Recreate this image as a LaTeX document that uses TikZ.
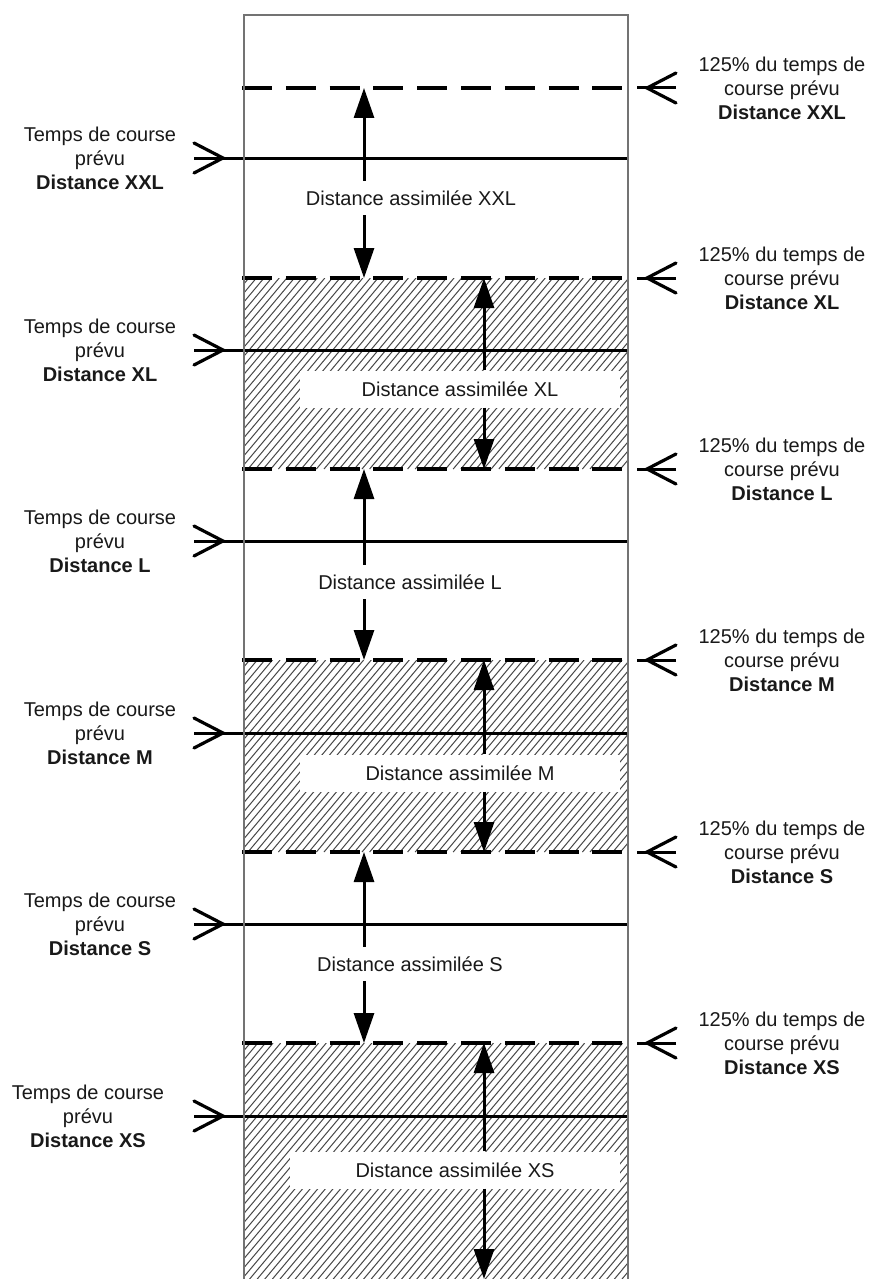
\documentclass[tikz,border=0pt]{standalone}
\usepackage{fontspec}
\setmainfont{Liberation Sans}
\usetikzlibrary{arrows.meta}
\newcommand\hatchband[2]{%
  \begin{scope}
    \clip (244,#1) rectangle (628,#2);
    \foreach \hx in {20,27.6,...,640} {
      \draw[hatchline] (\hx,#2) -- ({\hx+0.84*(#2-#1)},#1);
    }
  \end{scope}}
\begin{document}
\begin{tikzpicture}[x=1pt,y=-1pt,
  every node/.style={font=\fontsize{20pt}{24pt}\selectfont, text=black!90},
  lbl/.style={align=center, inner sep=0pt},
  mid/.style={inner sep=0pt, minimum height=34pt},
  midbox/.style={fill=white, inner sep=0pt, minimum height=37pt, minimum width=320pt},
  solidline/.style={line width=3pt},
  dashline/.style={line width=3.5pt, dash pattern=on 30pt off 13.8pt},
  frame/.style={draw=black!55, line width=1.5pt},
  hatchline/.style={draw=black!72, line width=1pt},
  dimarrow/.style={line width=3pt, -{Triangle[length=30pt,width=20pt]}},
  barb/.style={line width=3.2pt, line cap=round, line join=miter},
]
\useasboundingbox (0,0) rectangle (871,1279);
\fill[white] (0,0) rectangle (871,1279);

% hatched bands
\hatchband{278}{469}
\hatchband{660}{852}
\hatchband{1043}{1290}

% white label boxes in hatched bands
\node[midbox] (dXL) at (460,389) {Distance assimilée XL};
\node[midbox] (dM) at (460,773) {Distance assimilée M};
\node[midbox, minimum width=330pt] (dXS) at (455,1170) {Distance assimilée XS};

% labels in white bands
\node[mid] (dXXL) at (411,198) {Distance assimilée XXL};
\node[mid] (dL) at (410,582) {Distance assimilée L};
\node[mid] (dS) at (410,964) {Distance assimilée S};

% repeating horizontal structure
\foreach \n/\d/\s/\lx in {XXL/88/158/100, XL/278/350/100, L/469/541/100, M/660/733/100, S/852/924/100, XS/1043/1116/88} {
  \coordinate (dl\n) at (242,\d);
  \coordinate (dr\n) at (628,\d);
  \draw[dashline] (dl\n) -- (dr\n);
  \coordinate (ls\n) at (194,\s);
  \coordinate (lt\n) at (223,\s);
  \coordinate (le\n) at (628,\s);
  \draw[solidline] (ls\n) -- (le\n);
  \draw[barb] ([shift={(-29,-15)}]lt\n) -- (lt\n) -- ([shift={(-29,15)}]lt\n);
  \node[lbl] (left\n) at (\lx,\s) {Temps de course\\prévu\\\textbf{Distance \n}};
  \coordinate (rs\n) at (676,\d);
  \coordinate (rt\n) at (647,\d);
  \coordinate (re\n) at (637,\d);
  \draw[solidline] (rs\n) -- (re\n);
  \draw[barb] ([shift={(29,-15)}]rt\n) -- (rt\n) -- ([shift={(29,15)}]rt\n);
  \node[lbl] (right\n) at (782,\d) {125\% du temps de\\course prévu\\\textbf{Distance \n}};
}

% frame
\draw[frame] (244,1290) -- (244,15) -- (628,15) -- (628,1290);

% dimension arrows, white bands (x = 364)
\coordinate (tXXL) at (364,88);  \coordinate (bXXL) at (364,278);
\coordinate (tL) at (364,469);   \coordinate (bL) at (364,660);
\coordinate (tS) at (364,852);   \coordinate (bS) at (364,1043);
\draw[dimarrow] (dXXL.north -| tXXL) -- (tXXL);
\draw[dimarrow] (dXXL.south -| bXXL) -- (bXXL);
\draw[dimarrow] (dL.north -| tL) -- (tL);
\draw[dimarrow] (dL.south -| bL) -- (bL);
\draw[dimarrow] (dS.north -| tS) -- (tS);
\draw[dimarrow] (dS.south -| bS) -- (bS);

% dimension arrows, hatched bands (x = 484)
\coordinate (tXL) at (484,278);  \coordinate (bXL) at (484,469);
\coordinate (tM) at (484,660);   \coordinate (bM) at (484,852);
\coordinate (tXS) at (484,1043); \coordinate (bXS) at (484,1279);
\draw[dimarrow] (dXL.north -| tXL) -- (tXL);
\draw[dimarrow] (dXL.south -| bXL) -- (bXL);
\draw[dimarrow] (dM.north -| tM) -- (tM);
\draw[dimarrow] (dM.south -| bM) -- (bM);
\draw[dimarrow] (dXS.north -| tXS) -- (tXS);
\draw[dimarrow] (dXS.south -| bXS) -- (bXS);
\end{tikzpicture}
\end{document}
